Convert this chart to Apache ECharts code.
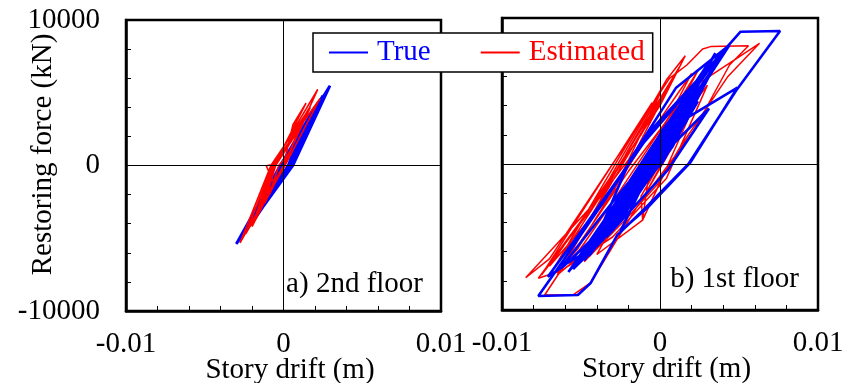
<!DOCTYPE html>
<html>
<head>
<meta charset="utf-8">
<script src="https://cdn.jsdelivr.net/npm/echarts@6/dist/echarts.min.js"></script>
<style>html,body{margin:0;padding:0;background:#fff}#c{width:843px;height:383px}</style>
</head>
<body>
<div id="c"></div>
<script>
// ---- tick labels ----
var xTickValues = [-0.01, 0, 0.01];
var xTickLabels = ['-0.01', '0', '0.01'];
var yTickValues = [-10000, 0, 10000];
var yTickLabels = ['-10000', '0', '10000'];
var panelLabels = ['a) 2nd floor', 'b) 1st floor'];
var seriesNames = ['True', 'Estimated'];

// ---- a) 2nd floor : True ----
var true2Drift = [0, 0.0008, 0.0004, -0.0007, -0.0002, 0.0014, 0.0005, -0.0013, -0.0002, 0.0020, 0.0005, -0.0019, -0.0002, 0.0025, 0.0005, -0.0024, -0.0002, 0.00295, 0.0006, -0.0030, -0.0002, 0.0022, 0.0005, -0.0021, -0.0002, 0.0016, 0.0004, -0.0015, -0.0001, 0.0010, 0.0003, -0.0008, 0.0000, 0.0004];
var true2Force = [0, 1500, 0, -1600, 0, 2900, 0, -2800, 0, 4000, 0, -3800, 0, 4800, 0, -4500, 0, 5480, 0, -5390, 0, 4300, 0, -4000, 0, 3200, 0, -3000, 0, 2000, 0, -1700, 0, 800];
// ---- a) 2nd floor : Estimated ----
var est2Drift = [0, 0.0007, 0.0001, -0.0006, -0.0011, -0.0005, 0.0012, 0.0000, -0.0012, -0.0005, 0.0016, 0.0000, -0.0018, -0.0006, 0.00143, 0.0006, 0.0000, -0.0020, -0.0007, 0.00232, 0.0001, -0.0024, -0.0007, 0.00217, 0.0000, -0.00276, -0.0008, 0.0017, 0.0000, -0.0016, -0.0005, 0.0010, 0.0000, -0.0009, -0.0003, 0.0004];
var est2Force = [0, 1700, 0, -1200, -20, 100, 3000, 0, -2600, 0, 3900, 0, -3600, 0, 4290, 2800, 0, -4200, 0, 4610, 0, -4700, 0, 5230, 0, -5320, 0, 4000, 0, -3300, 0, 2500, 0, -2000, 0, 900];

// ---- b) 1st floor : True ----
var true1Drift = [0, 0.0009, -0.0002, -0.0011, 0.0001, 0.0016, -0.0003, -0.0020, 0.0000, 0.0024, 0.0002, -0.0031, -0.0004, 0.0031, 0.0008, -0.0045, -0.0019, 0.0010, 0.0044, 0.0010, -0.0030, -0.0061, -0.0071, -0.0050, -0.0010, 0.0030, 0.0051, 0.0076, 0.0048, 0.0018, -0.0010, -0.0027, -0.0044, -0.0052, -0.0077, -0.0061, -0.0032, -0.0005, 0.0044, 0.0025, -0.0005, -0.0040, -0.0062, -0.0030, 0.0010, 0.0049, 0.0019, -0.0008, -0.0025, 0.0000, 0.0035, 0.0012, -0.0036, -0.0055, -0.0025, 0.0005, 0.0040, 0.0020, -0.0015, -0.0048, -0.0020, 0.0028, 0.0012, -0.0028, -0.0009, 0.0031, 0.0005, -0.0034,
  0.0038, 0.0015, -0.0020, -0.0058, -0.0035, -0.0005, 0.0030, 0.0012, -0.0012, -0.0045, -0.0028, 0.0002, 0.0036, 0.0016, -0.0018, -0.0052, -0.0030, 0.0006, 0.0026, 0.0004, -0.0040,
  -0.0009, 0.0022, -0.0003, -0.0022, 0.0012, -0.0012, 0.0006, -0.0004];
var true1Force = [0, 1600, 0, -1200, 0, 2900, 0, -2600, 600, 4300, 300, -4500, 0, 6000, 1200, -6300, 270, 5200, 8150, 2500, -3800, -7000, -7720, -4600, 1500, 6500, 9060, 9110, 5000, 0, -3100, -4860, -8170, -8970, -9040, -6580, -2000, 2400, 8150, 5200, 500, -5600, -7000, -2600, 2700, 5230, 70, -3000, -4600, 1000, 7600, 3000, -5200, -7200, -2800, 2600, 7800, 4000, -1800, -6600, -1700, 5600, 2000, -4300, -500, 3800, -400, -5000,
  7200, 3400, -2400, -7400, -3800, 1200, 6800, 3600, -800, -6200, -3000, 2400, 7200, 2800, -2600, -6800, -3200, 2600, 5800, 1200, -5400,
  -800, 4700, 700, -2900, 2300, -1500, 1200, -300];
// ---- b) 1st floor : Estimated ----
var est1Drift = [0, 0.0010, -0.0008, 0.0014, -0.0016, 0.0022, -0.0010, -0.0028, 0.0004, 0.0028, 0.0002, -0.0011, -0.0040, -0.0018, 0.0016, 0.0030, 0.0010, -0.0034, -0.0062, -0.0077, -0.0050, -0.0032, 0.0004, 0.0016, 0.0000, -0.0040, -0.0085, -0.0070, -0.0030, 0.0006, 0.0017, 0.0027, 0.0032, 0.0056, 0.0044, 0.0021, -0.0015, -0.0044, -0.0055, -0.0073, -0.0064, -0.0020, 0.0020, 0.0063, 0.0043, 0.0013, 0.0000, -0.0020, -0.0048, -0.0025, 0.0012, 0.0030, 0.0004, -0.0030, -0.0058, -0.0030, 0.0008, 0.0024, 0.0005, -0.0045, -0.0065,
  0.0008, -0.0015, -0.0075, -0.0005, -0.0025, -0.0068, -0.0040, 0.0012, -0.0012, -0.0070, -0.0030, 0.0000, -0.0022, -0.0060, -0.0052,
  -0.0040, -0.0010, 0.0020, -0.0005, -0.0011, -0.0012, 0.0016, -0.0008, 0.0008, -0.0002];
var est1Force = [0, 2000, -1400, 3000, -2500, 4300, -1000, -4200, 1500, 5600, -800, -3840, -6200, -1800, 3800, 6000, 2200, -4900, -7300, -7830, -3900, -1000, 5750, 7420, 4000, -2500, -7790, -6500, 0, 5870, 6780, 7880, 8040, 8100, 6780, 2210, -3000, -8150, -8970, -8970, -7500, -500, 5200, 8270, 6000, 1200, -1200, -3600, -6700, -3500, 2800, 5400, -1000, -5000, -7000, -2600, 3600, 6400, 2500, -5800, -7600,
  5800, 1000, -7600, 4200, 600, -7300, -2600, 6600, 2000, -7000, -2000, 4800, 600, -6800, -5800,
  -3600, 1500, 6200, 1000, -3840, -2200, 3000, -1800, 1200, -200];

function zip(a, b) { return a.map(function (v, i) { return [v, b[i]]; }); }

var FONT = "'Liberation Serif','Times New Roman',serif";
var BLUE = '#0000ff', RED = '#ff0000';

function labelFrom(vals, labels) {
  return function (v) {
    for (var i = 0; i < vals.length; i++) {
      if (Math.abs(v - vals[i]) < Math.abs(vals[vals.length - 1]) * 1e-6) return labels[i];
    }
    return '';
  };
}

var chart = echarts.init(document.getElementById('c'), null, { renderer: 'canvas' });

var gridBase = { show: true, borderColor: '#000', borderWidth: 2.5, backgroundColor: 'transparent', containLabel: false, outerBoundsMode: 'none' };
var grids = [
  Object.assign({ left: 126, top: 20, width: 315, height: 291 }, gridBase),
  Object.assign({ left: 502, top: 18, width: 316, height: 292 }, gridBase)
];

var xAxes = [0, 1].map(function (i) {
  return {
    type: 'value', gridIndex: i, min: -0.01, max: 0.01, interval: 0.002,
    axisLine: { show: true, onZero: false, lineStyle: { color: '#000', width: 2.5 } },
    axisTick: { show: true, inside: true, length: 5, lineStyle: { color: '#000', width: 1 } },
    splitLine: { show: false },
    axisLabel: { color: '#000', fontSize: 29, fontFamily: FONT, margin: 19, formatter: labelFrom(xTickValues, xTickLabels) },
    name: 'Story drift (m)', nameLocation: 'middle', nameGap: 45, nameMoveOverlap: false,
    nameTextStyle: { color: '#000', fontSize: 29, fontFamily: FONT, padding: [0, 0, 0, 13] }
  };
});

var yAxes = [0, 1].map(function (i) {
  return {
    type: 'value', gridIndex: i, min: -10000, max: 10000, interval: 2000,
    axisLine: { show: true, onZero: false, lineStyle: { color: '#000', width: 2.5 } },
    axisTick: { show: true, inside: true, length: 5, lineStyle: { color: '#000', width: 1 } },
    splitLine: { show: false },
    axisLabel: { show: i === 0, color: '#000', fontSize: 29, fontFamily: FONT, margin: 26, formatter: labelFrom(yTickValues, yTickLabels) },
    name: i === 0 ? 'Restoring force (kN)' : '', nameLocation: 'middle', nameGap: 68, nameMoveOverlap: false,
    nameTextStyle: { color: '#000', fontSize: 29, fontFamily: FONT, padding: [0, 0, 0, 22] }
  };
});

function zeroLines() {
  return {
    silent: true, symbol: ['none', 'none'],
    label: { show: false },
    lineStyle: { color: '#000', width: 1, type: 'solid' },
    data: [{ xAxis: 0 }, { yAxis: 0 }]
  };
}

var series = [
  { name: seriesNames[0], type: 'line', xAxisIndex: 0, yAxisIndex: 0, data: zip(true2Drift, true2Force), symbol: 'none', lineStyle: { color: BLUE, width: 2.8 }, itemStyle: { color: BLUE }, markLine: zeroLines(), z: 2 },
  { name: seriesNames[1], type: 'line', xAxisIndex: 0, yAxisIndex: 0, data: zip(est2Drift, est2Force), symbol: 'none', lineStyle: { color: RED, width: 1.6 }, itemStyle: { color: RED }, z: 3 },
  { name: seriesNames[1], type: 'line', xAxisIndex: 1, yAxisIndex: 1, data: zip(est1Drift, est1Force), symbol: 'none', lineStyle: { color: RED, width: 1.5 }, itemStyle: { color: RED }, markLine: zeroLines(), z: 2 },
  { name: seriesNames[0], type: 'line', xAxisIndex: 1, yAxisIndex: 1, data: zip(true1Drift, true1Force), symbol: 'none', lineStyle: { color: BLUE, width: 2.6 }, itemStyle: { color: BLUE }, z: 3 }
];

chart.setOption({
  animation: false,
  backgroundColor: '#fff',
  textStyle: { fontFamily: FONT },
  grid: grids,
  xAxis: xAxes,
  yAxis: yAxes,
  legend: {
    left: 313, top: 33,
    padding: [5, 8, 5, 16],
    backgroundColor: '#fff', borderColor: '#000', borderWidth: 1.5, borderRadius: 0,
    itemWidth: 39, itemHeight: 2, itemGap: 50,
    icon: 'rect',
    textStyle: { fontSize: 29, fontFamily: FONT, padding: [0, 0, 0, 4] },
    data: [
      { name: seriesNames[0], textStyle: { color: BLUE } },
      { name: seriesNames[1], textStyle: { color: RED } }
    ],
    z: 10
  },
  title: [
    { text: panelLabels[0], right: 420, top: 270, textStyle: { fontSize: 29, fontWeight: 'normal', color: '#000', fontFamily: FONT }, padding: 0 },
    { text: panelLabels[1], right: 44, top: 265, textStyle: { fontSize: 29, fontWeight: 'normal', color: '#000', fontFamily: FONT }, padding: 0 }
  ],
  series: series
});
</script>
</body>
</html>
